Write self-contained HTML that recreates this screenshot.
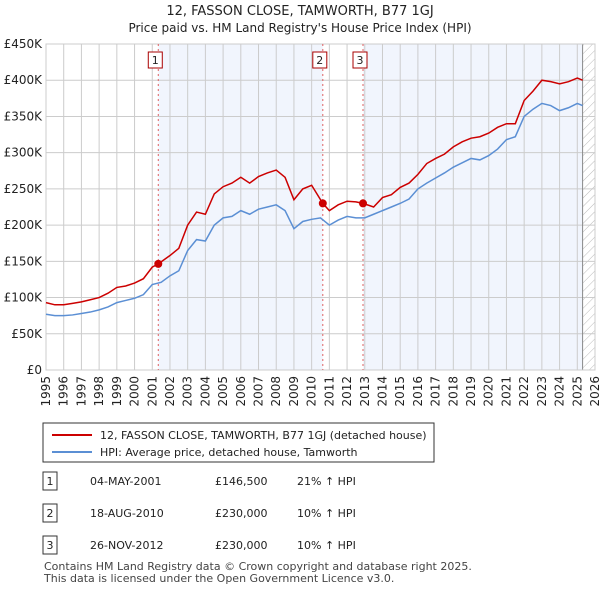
<!DOCTYPE html>
<html><head><meta charset="utf-8"><style>
body{margin:0;background:#fff;font-family:"Liberation Sans","DejaVu Sans",sans-serif;}
svg text{font-family:"DejaVu Sans","Liberation Sans",sans-serif;}
</style></head><body>
<svg width="600" height="590" xmlns="http://www.w3.org/2000/svg">
<defs><pattern id="hatch" width="6" height="6" patternUnits="userSpaceOnUse" patternTransform="rotate(45)"><line x1="0" y1="0" x2="0" y2="6" stroke="#bbb" stroke-width="1"/></pattern></defs>
<text x="300" y="15" text-anchor="middle" font-size="13" fill="#222">12, FASSON CLOSE, TAMWORTH, B77 1GJ</text>
<text x="300" y="32" text-anchor="middle" font-size="12" fill="#222">Price paid vs. HM Land Registry's House Price Index (HPI)</text>
<g id="plot"></g>
<g>
<rect x="43" y="423" width="391" height="39" fill="#fff" stroke="#333"/>
<line x1="52" y1="435" x2="92" y2="435" stroke="#cc0000" stroke-width="2"/>
<text x="100" y="439" font-size="11" fill="#222">12, FASSON CLOSE, TAMWORTH, B77 1GJ (detached house)</text>
<line x1="52" y1="452" x2="92" y2="452" stroke="#5b8fd4" stroke-width="2"/>
<text x="100" y="456" font-size="11" fill="#222">HPI: Average price, detached house, Tamworth</text>
</g>
<g id="table" font-size="11" fill="#222"></g>
<text x="44" y="570" font-size="11" fill="#444">Contains HM Land Registry data © Crown copyright and database right 2025.</text>
<text x="44" y="582" font-size="11" fill="#444">This data is licensed under the Open Government Licence v3.0.</text>
</svg>
<script>
const hpiYears=[1995,1995.5,1996,1996.5,1997,1997.5,1998,1998.5,1999,1999.5,2000,2000.5,2001,2001.5,2002,2002.5,2003,2003.5,2004,2004.5,2005,2005.5,2006,2006.5,2007,2007.5,2008,2008.5,2009,2009.5,2010,2010.5,2011,2011.5,2012,2012.5,2013,2013.5,2014,2014.5,2015,2015.5,2016,2016.5,2017,2017.5,2018,2018.5,2019,2019.5,2020,2020.5,2021,2021.5,2022,2022.5,2023,2023.5,2024,2024.5,2025,2025.3];
const hpiValues=[77,75,75,76,78,80,83,87,93,96,99,104,118,121,130,137,165,180,178,200,210,212,220,215,222,225,228,220,195,205,208,210,200,207,212,210,210,215,220,225,230,236,250,258,265,272,280,286,292,290,296,305,318,322,350,360,368,365,358,362,368,365];
const priceYears=[1995,1995.5,1996,1996.5,1997,1997.5,1998,1998.5,1999,1999.5,2000,2000.5,2001,2001.34,2002,2002.5,2003,2003.5,2004,2004.5,2005,2005.5,2006,2006.5,2007,2007.5,2008,2008.5,2009,2009.5,2010,2010.63,2011,2011.5,2012,2012.5,2012.9,2013.5,2014,2014.5,2015,2015.5,2016,2016.5,2017,2017.5,2018,2018.5,2019,2019.5,2020,2020.5,2021,2021.5,2022,2022.5,2023,2023.5,2024,2024.5,2025,2025.3];
const priceValues=[93,90,90,92,94,97,100,106,114,116,120,126,142,146.5,158,168,200,218,215,243,253,258,266,258,267,272,276,266,235,250,255,230,220,228,233,232,230,225,238,242,252,258,270,285,292,298,308,315,320,322,327,335,340,340,372,385,400,398,395,398,403,400];
const yTicks=[0,50,100,150,200,250,300,350,400,450];
const yTickLabels=["£0","£50K","£100K","£150K","£200K","£250K","£300K","£350K","£400K","£450K"];
const xTicks=[1995,1996,1997,1998,1999,2000,2001,2002,2003,2004,2005,2006,2007,2008,2009,2010,2011,2012,2013,2014,2015,2016,2017,2018,2019,2020,2021,2022,2023,2024,2025,2026];
const saleLabels=["1","2","3"];
const saleYears=[2001.34,2010.63,2012.9];
const saleValues=[146.5,230,230];
const saleDates=["04-MAY-2001","18-AUG-2010","26-NOV-2012"];
const salePrices=["£146,500","£230,000","£230,000"];
const saleHpi=["21% ↑ HPI","10% ↑ HPI","10% ↑ HPI"];
const dataEnd=2025.3;

const X0=46,X1=595,Y0=370,Y1=44;
const x=v=>X0+(v-1995)/(2026-1995)*(X1-X0);
const y=v=>Y0-v/450*(Y0-Y1);
const NS="http://www.w3.org/2000/svg";
const plot=document.getElementById('plot');
function mk(tag,attrs,parent){const e=document.createElementNS(NS,tag);for(const k in attrs)e.setAttribute(k,attrs[k]);(parent||plot).appendChild(e);return e;}

let e;
e=mk('rect',{x:X0,y:Y1,width:X1-X0,height:Y0-Y1,fill:'#fff'});


e=mk('rect',{x:x(saleYears[0]),y:Y1,width:x(saleYears[1])-x(saleYears[0]),height:Y0-Y1,fill:'#eef3fc',opacity:0.8});


e=mk('rect',{x:x(saleYears[2]),y:Y1,width:x(dataEnd)-x(saleYears[2]),height:Y0-Y1,fill:'#eef3fc',opacity:0.8});


e=mk('rect',{x:x(dataEnd),y:Y1,width:X1-x(dataEnd),height:Y0-Y1,fill:'url(#hatch)'});


yTicks.forEach((t,i)=>{
  e=mk('line',{x1:X0,x2:X1,y1:y(t),y2:y(t),stroke:'#ccc','stroke-width':1});
  
  
  e=mk('text',{x:X0-4,y:y(t)+4,'text-anchor':'end','font-size':12,fill:'#222'});
  e.textContent=yTickLabels[i];
  
  
});
xTicks.forEach(t=>{
  e=mk('line',{x1:x(t),x2:x(t),y1:Y1,y2:Y0,stroke:'#ccc','stroke-width':1});
  
  
  e=mk('text',{x:0,y:0,'text-anchor':'end','font-size':12,fill:'#222',transform:`translate(${x(t)+4},${Y0+6}) rotate(-90)`});
  e.textContent=t;
  
  
});
e=mk('line',{x1:x(dataEnd),x2:x(dataEnd),y1:Y1,y2:Y0,stroke:'#888','stroke-width':1});


e=mk('rect',{x:X0,y:Y1,width:X1-X0,height:Y0-Y1,fill:'none',stroke:'#ccc'});


saleYears.forEach((s,i)=>{
  e=mk('line',{x1:x(s),x2:x(s),y1:Y1,y2:Y0,stroke:'#e06060','stroke-width':1,'stroke-dasharray':'2,3'});
  
  
});
e=mk('polyline',{points:hpiYears.map((t,i)=>x(t)+','+y(hpiValues[i])).join(' '),fill:'none',stroke:'#5b8fd4','stroke-width':1.5});


e=mk('polyline',{points:priceYears.map((t,i)=>x(t)+','+y(priceValues[i])).join(' '),fill:'none',stroke:'#cc0000','stroke-width':1.5});


saleYears.forEach((s,i)=>{
  e=mk('circle',{cx:x(s),cy:y(saleValues[i]),r:4,fill:'#cc0000'});
  
  
  e=mk('rect',{x:x(s)-10,y:52,width:14,height:16,fill:'#fff',stroke:'#aa0000'});
  
  
  e=mk('text',{x:x(s)-3,y:64,'text-anchor':'middle','font-size':11,fill:'#222'});
  e.textContent=saleLabels[i];
  
  
});
const tb=document.getElementById('table');
saleLabels.forEach((l,i)=>{
  const cy=481+i*32;
  e=mk('rect',{x:43,y:cy-9,width:14,height:18,fill:'#fff',stroke:'#333'},tb);
  
  
  const cols=[[50,l,'middle'],[90,saleDates[i],'start'],[215,salePrices[i],'start'],[297,saleHpi[i],'start']];
  cols.forEach(c=>{
    e=mk('text',{x:c[0],y:cy+4,'text-anchor':c[2],'font-size':11,fill:'#222'},tb);
    e.textContent=c[1];
    
    
  });
});
</script>
</body></html>
